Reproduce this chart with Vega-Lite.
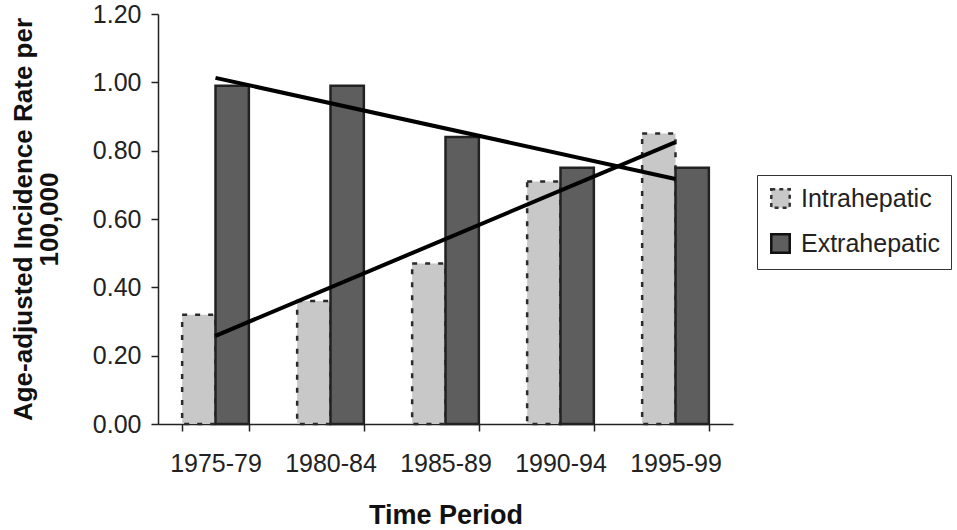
{
  "$schema": "https://vega.github.io/schema/vega-lite/v6.json",
  "autosize": "none",
  "width": 575,
  "height": 410,
  "padding": {"left": 158, "top": 14, "right": 224, "bottom": 106},
  "background": "white",
  "config": {
    "view": {"stroke": null},
    "font": "Liberation Sans",
    "axis": {"grid": false, "domainColor": "#222", "tickColor": "#222", "labelColor": "#222", "titleColor": "#111", "labelFont": "Liberation Sans", "titleFont": "Liberation Sans", "domainWidth": 1.5, "tickWidth": 1.5}
  },
  "layer": [
    {
      "data": {"values": [
        {"period": "1975-79", "series": "Intrahepatic", "rate": 0.32},
        {"period": "1975-79", "series": "Extrahepatic", "rate": 0.99},
        {"period": "1980-84", "series": "Intrahepatic", "rate": 0.36},
        {"period": "1980-84", "series": "Extrahepatic", "rate": 0.99},
        {"period": "1985-89", "series": "Intrahepatic", "rate": 0.47},
        {"period": "1985-89", "series": "Extrahepatic", "rate": 0.84},
        {"period": "1990-94", "series": "Intrahepatic", "rate": 0.71},
        {"period": "1990-94", "series": "Extrahepatic", "rate": 0.75},
        {"period": "1995-99", "series": "Intrahepatic", "rate": 0.85},
        {"period": "1995-99", "series": "Extrahepatic", "rate": 0.75}
      ]},
      "mark": {"type": "bar", "strokeWidth": 2.5},
      "encoding": {
        "x": {
          "field": "period", "type": "nominal",
          "scale": {"paddingInner": 0.42, "paddingOuter": 0.21},
          "axis": {"title": "Time Period", "labelAngle": 0, "labelFontSize": 25, "labelPadding": 20, "tickSize": 7, "tickBand": "extent", "titleFontSize": 27, "titleFontWeight": "bold", "titlePadding": 26}
        },
        "xOffset": {"field": "series", "type": "nominal", "sort": ["Intrahepatic", "Extrahepatic"], "scale": {"paddingInner": 0, "paddingOuter": 0}},
        "y": {
          "field": "rate", "type": "quantitative",
          "scale": {"domain": [0, 1.2], "nice": false},
          "axis": {"values": [0, 0.2, 0.4, 0.6, 0.8, 1.0, 1.2], "format": ".2f", "labelFontSize": 25, "labelPadding": 10, "tickSize": 7, "title": ["Age-adjusted Incidence Rate per", "100,000"], "titleFontSize": 26, "titleFontWeight": "bold", "titlePadding": 30, "titleLineHeight": 26}
        },
        "color": {
          "field": "series", "type": "nominal", "sort": ["Intrahepatic", "Extrahepatic"],
          "scale": {"range": ["#c8c8c8", "#5e5e5e"]},
          "legend": {
            "title": null, "orient": "none", "legendX": 599, "legendY": 161,
            "labelFontSize": 25, "labelColor": "#222", "labelFont": "Liberation Sans",
            "symbolType": "square", "symbolSize": 340, "rowPadding": 16, "padding": 11,
            "strokeColor": "#333", "labelOffset": 8, "labelLimit": 300,
            "encode": {
              "symbols": {
                "update": {
                  "stroke": {"signal": "datum.value === 'Intrahepatic' ? '#333333' : '#111111'"},
                  "strokeDash": {"signal": "datum.value === 'Intrahepatic' ? [4, 4] : [1, 0]"},
                  "strokeWidth": {"value": 2.5}
                }
              }
            }
          }
        },
        "stroke": {
          "field": "series", "type": "nominal", "sort": ["Intrahepatic", "Extrahepatic"],
          "scale": {"range": ["#2a2a2a", "#222222"]},
          "legend": null
        },
        "strokeDash": {
          "field": "series", "type": "nominal", "sort": ["Intrahepatic", "Extrahepatic"],
          "scale": {"range": [[5, 8], [1, 0]]},
          "legend": null
        }
      }
    },
    {
      "data": {"values": [
        {"period": "1975-79", "trend": "Intrahepatic", "rate": 0.258},
        {"period": "1995-99", "trend": "Intrahepatic", "rate": 0.825},
        {"period": "1975-79", "trend": "Extrahepatic", "rate": 1.013},
        {"period": "1995-99", "trend": "Extrahepatic", "rate": 0.717}
      ]},
      "mark": {"type": "line", "color": "#000000", "strokeWidth": 4},
      "encoding": {
        "x": {"field": "period", "type": "nominal"},
        "y": {"field": "rate", "type": "quantitative"},
        "detail": {"field": "trend", "type": "nominal"}
      }
    }
  ]
}
